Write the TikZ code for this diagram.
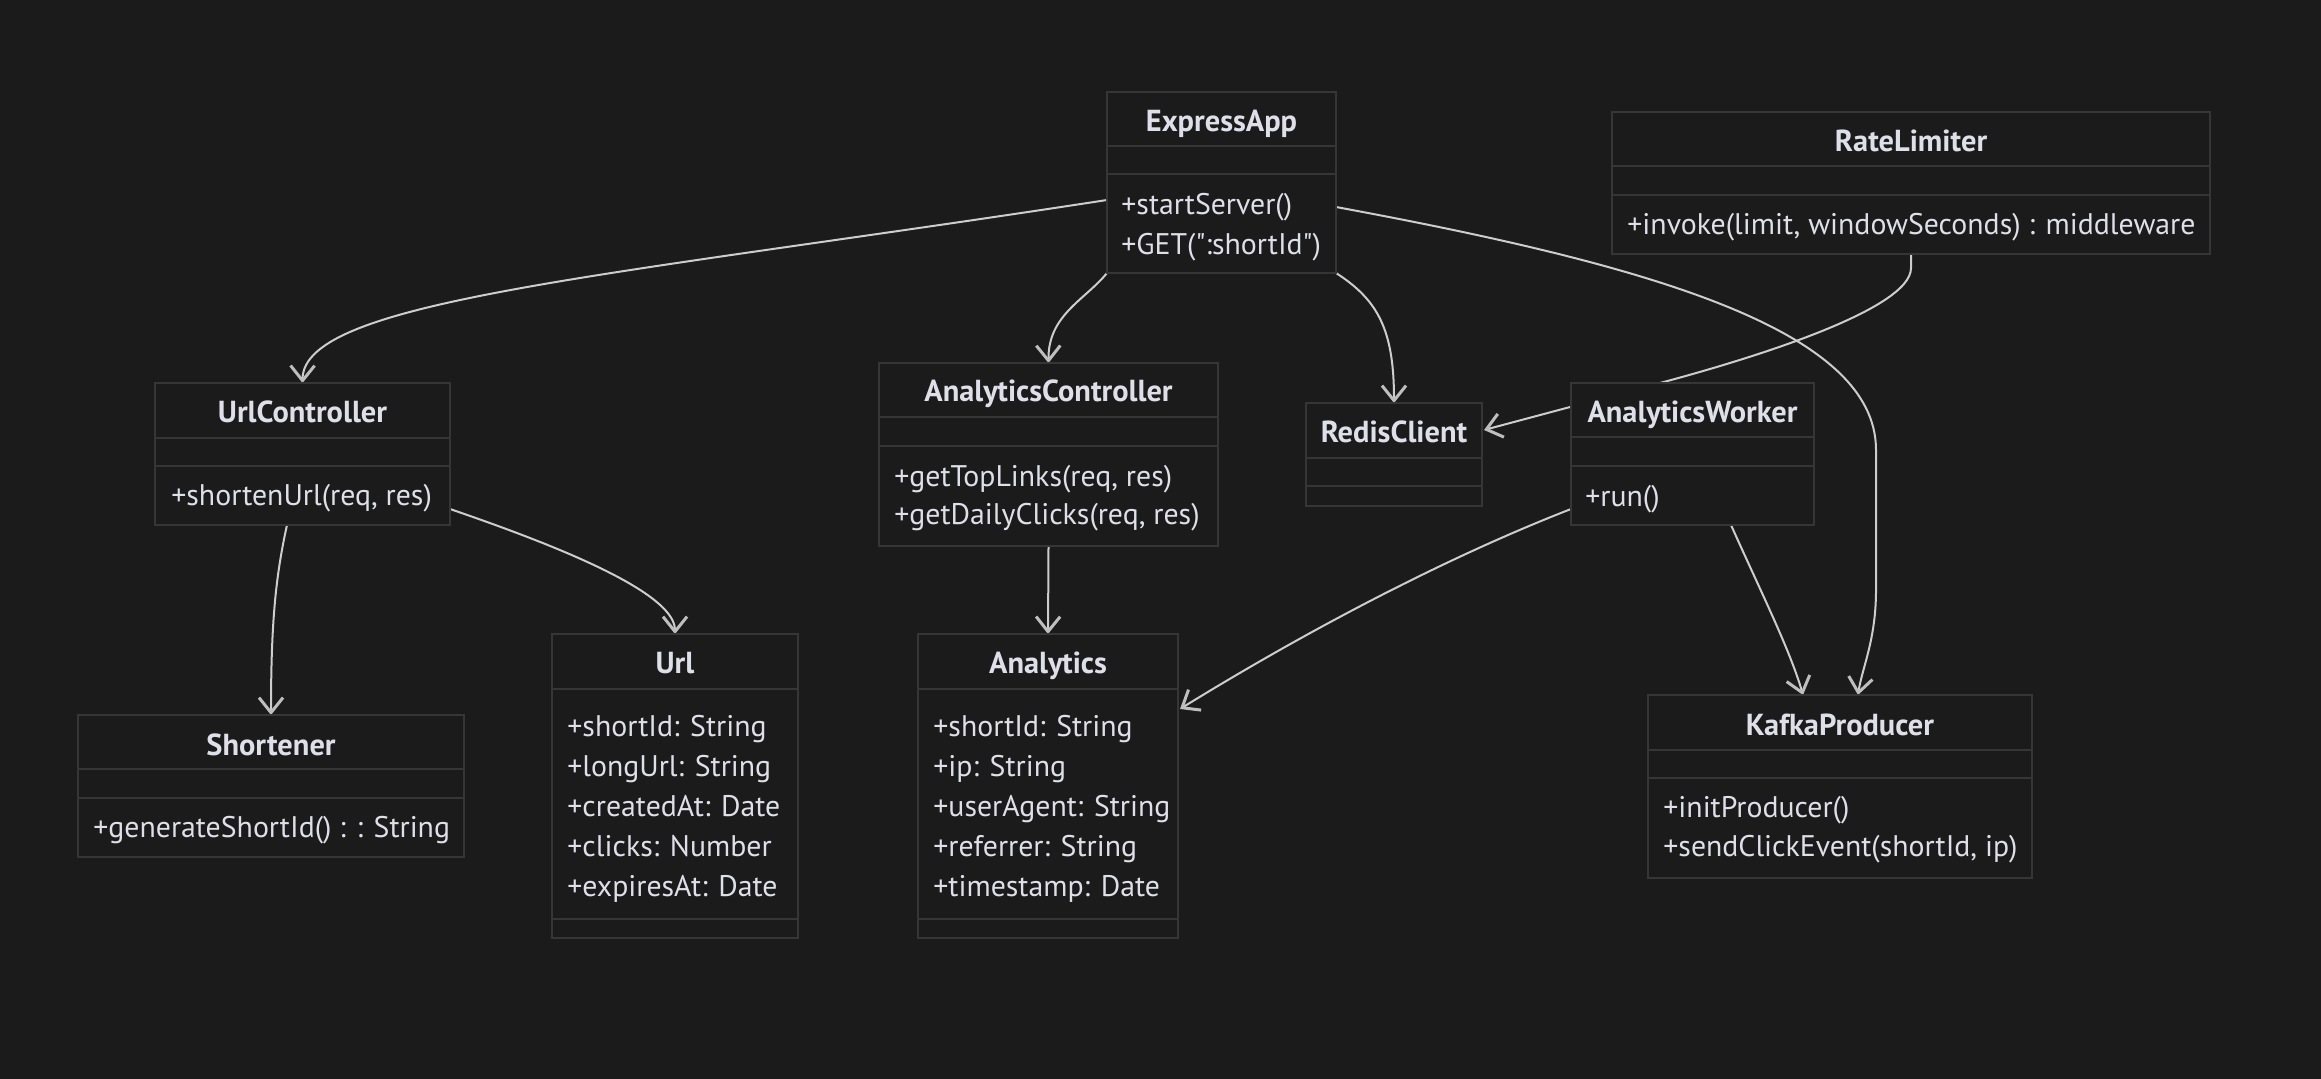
\documentclass[tikz,border=0pt]{standalone}
\usepackage{fontspec}
\setmainfont{PT Sans}
\usetikzlibrary{arrows.meta,fit,calc}
\definecolor{bgc}{RGB}{27,27,27}
\definecolor{boxline}{RGB}{54,54,54}
\definecolor{txt}{RGB}{222,223,233}
\definecolor{edgec}{RGB}{205,205,205}
\definecolor{tipc}{RGB}{190,190,190}
\pgfdeclarelayer{bglayer}
\pgfdeclarelayer{edgelayer}
\pgfsetlayers{bglayer,edgelayer,main}
\tikzset{
  classbox/.style={draw=boxline, line width=1pt, fill=bgc, inner sep=0pt, outer sep=0pt},
  sepline/.style={draw=boxline, line width=1pt},
  titletext/.style={font=\fontsize{15.2}{18}\selectfont\bfseries, inner sep=0pt, text height=0.7em, text depth=0pt, yshift=-1.5pt},
  membertext/.style={anchor=west, inner sep=0pt, text height=0.7em, text depth=0pt, yshift=-1.2pt},
  assoc/.style={draw=edgec, line width=1pt, -{Straight Barb[length=7.5pt,width=12pt,line width=1.5pt,color=tipc]}}
}
% #1 name, #2 x1, #3 x2, #4 top, #5 sep1, #6 sep2, #7 bottom, #8 title y, #9 title
\newcommand{\umlclass}[9]{%
  \node[classbox, fit={(#2,#4) (#3,#7)}] (#1) {};
  \draw[sepline] (#2,#5) -- (#3,#5);
  \draw[sepline] (#2,#6) -- (#3,#6);
  \node[titletext] (#1-title) at ({(#2+#3)/2},#8) {#9};
}
\newcommand{\mem}[4]{\node[membertext] (#1) at (#2,#3) {#4};}
\begin{document}
\begin{tikzpicture}[x=0.5pt, y=-0.5pt, font=\fontsize{14.9}{18}\selectfont, text=txt]
\useasboundingbox (0,0) rectangle (2321,1079);
\begin{pgfonlayer}{bglayer}
\fill[bgc] (0,0) rectangle (2321,1079);
\end{pgfonlayer}

\umlclass{ea}{1107}{1336}{92}{146}{174}{273}{122}{ExpressApp}
\mem{ea-m1}{1121}{205}{+startServer()}
\mem{ea-m2}{1121}{245}{+GET(\textquotedbl:shortId\textquotedbl)}

\umlclass{rl}{1612}{2210}{112}{166}{195}{254}{142}{RateLimiter}
\mem{rl-m1}{1627}{225}{+invoke(limit, windowSeconds) : middleware}

\umlclass{uc}{155}{450}{383}{438}{466}{525}{413}{UrlController}
\mem{uc-m1}{171}{496}{+shortenUrl(req, res)}

\umlclass{sh}{78}{464}{715}{769}{798}{857}{745}{Shortener}
\mem{sh-m1}{93}{828}{+generateShortId() : : String}

\umlclass{rc}{1306}{1482}{403}{458}{486}{506}{433}{RedisClient}

\umlclass{aw}{1571}{1814}{383}{437}{466}{525}{413}{AnalyticsWorker}
\mem{aw-m1}{1585}{497}{+run()}

\umlclass{kp}{1648}{2032}{695}{750}{778}{878}{725}{KafkaProducer}
\mem{kp-m1}{1663}{808}{+initProducer()}
\mem{kp-m2}{1663}{847}{+sendClickEvent(shortId, ip)}

\umlclass{ac}{879}{1218}{363}{417}{446}{546}{392}{AnalyticsController}
\mem{ac-m1}{894}{477}{+getTopLinks(req, res)}
\mem{ac-m2}{894}{515}{+getDailyClicks(req, res)}

\umlclass{url}{552}{798}{634}{689}{919}{938}{663}{Url}
\mem{url-a1}{567}{727}{+shortId: String}
\mem{url-a2}{567}{767}{+longUrl: String}
\mem{url-a3}{567}{807}{+createdAt: Date}
\mem{url-a4}{567}{847}{+clicks: Number}
\mem{url-a5}{567}{887}{+expiresAt: Date}

\umlclass{an}{918}{1178}{634}{689}{919}{938}{663}{Analytics}
\mem{an-a1}{933}{727}{+shortId: String}
\mem{an-a2}{933}{767}{+ip: String}
\mem{an-a3}{933}{807}{+userAgent: String}
\mem{an-a4}{933}{847}{+referrer: String}
\mem{an-a5}{933}{887}{+timestamp: Date}

\begin{pgfonlayer}{edgelayer}
\draw[assoc] ($(ea.west)+(0,17.5)$) .. controls (607,277) and (303,300) .. (uc.north);
\draw[assoc] (ea.south west) .. controls (1085,300) and (1048,315) .. (ac.north);
\draw[assoc] (ea.south east) .. controls (1378,300) and (1394,330) .. (rc.north);
\draw[assoc] ($(ea.east)+(0,24.5)$) .. controls (1650,265) and (1876,330) .. (1876,450) -- (1876,590) .. controls (1876,640) and (1862,668) .. ($(kp.north)+(18,0)$);
\draw[assoc] ($(uc.south)+(-15.5,0)$) .. controls (276,575) and (271,620) .. (sh.north);
\draw[assoc] ($(uc.east)+(0,55)$) .. controls (540,540) and (675,590) .. (url.north);
\draw[assoc] (ac.south) -- (an.north);
\draw[assoc] ($(aw.west)+(0,55)$) .. controls (1440,560) and (1300,635) .. ($(an.east)+(2,-77)$);
\draw[assoc] ($(aw.south)+(38.5,0)$) .. controls (1760,590) and (1790,650) .. ($(kp.north)+(-37,0)$);
\draw[assoc] (rl.south) -- ++(0,14) .. controls (1911,310) and (1748,359.5) .. (1660,383) -- ($(rc.east)+(2,-24.5)$);
\end{pgfonlayer}
\end{tikzpicture}
\end{document}
